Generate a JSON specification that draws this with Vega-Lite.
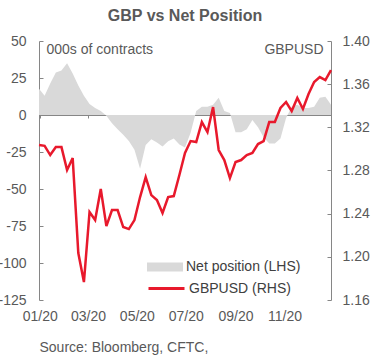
{
  "$schema": "https://vega.github.io/schema/vega-lite/v6.json",
  "width": 292,
  "height": 259,
  "autosize": "none",
  "padding": {"left": 39, "top": 41, "right": 56, "bottom": 63},
  "background": "white",
  "title": {"text": "GBP vs Net Position", "fontSize": 16, "fontWeight": "bold", "color": "#595959", "anchor": "middle", "frame": "group", "offset": 10, "font": "Liberation Sans"},
  "config": {
    "view": {"stroke": null},
    "font": "Liberation Sans",
    "axis": {"labelFont": "Liberation Sans", "labelFontSize": 14, "labelColor": "#595959", "domainColor": "#868686", "tickColor": "#868686", "grid": false, "titleFont": "Liberation Sans", "titleFontSize": 14, "titleColor": "#595959", "titleFontWeight": "normal"},
    "legend": {"labelFont": "Liberation Sans", "labelFontSize": 14, "labelColor": "#404040"}
  },
  "data": {"values": [
    {"date": "2019-12-31", "net": 17.8, "gbpusd": 1.3036},
    {"date": "2020-01-07", "net": 13.0, "gbpusd": 1.3029},
    {"date": "2020-01-14", "net": 21.2, "gbpusd": 1.2943},
    {"date": "2020-01-21", "net": 28.8, "gbpusd": 1.3017},
    {"date": "2020-01-28", "net": 30.1, "gbpusd": 1.3017},
    {"date": "2020-02-04", "net": 34.9, "gbpusd": 1.2804},
    {"date": "2020-02-11", "net": 28.1, "gbpusd": 1.2915},
    {"date": "2020-02-18", "net": 19.9, "gbpusd": 1.2035},
    {"date": "2020-02-25", "net": 13.0, "gbpusd": 1.1766},
    {"date": "2020-03-03", "net": 7.5, "gbpusd": 1.2415},
    {"date": "2020-03-10", "net": 4.8, "gbpusd": 1.2341},
    {"date": "2020-03-17", "net": 2.7, "gbpusd": 1.2628},
    {"date": "2020-03-24", "net": -0.5, "gbpusd": 1.2285},
    {"date": "2020-03-31", "net": -5.5, "gbpusd": 1.2433},
    {"date": "2020-04-07", "net": -9.6, "gbpusd": 1.2433},
    {"date": "2020-04-14", "net": -13.4, "gbpusd": 1.2276},
    {"date": "2020-04-21", "net": -17.5, "gbpusd": 1.2257},
    {"date": "2020-04-28", "net": -23.5, "gbpusd": 1.2341},
    {"date": "2020-05-05", "net": -36.3, "gbpusd": 1.2554},
    {"date": "2020-05-12", "net": -20.2, "gbpusd": 1.2739},
    {"date": "2020-05-19", "net": -16.4, "gbpusd": 1.2572},
    {"date": "2020-05-26", "net": -18.5, "gbpusd": 1.2526},
    {"date": "2020-06-02", "net": -21.2, "gbpusd": 1.2406},
    {"date": "2020-06-09", "net": -17.8, "gbpusd": 1.2554},
    {"date": "2020-06-16", "net": -15.8, "gbpusd": 1.2563},
    {"date": "2020-06-23", "net": -19.9, "gbpusd": 1.2758},
    {"date": "2020-06-30", "net": -21.9, "gbpusd": 1.2962},
    {"date": "2020-07-07", "net": -12.0, "gbpusd": 1.3073},
    {"date": "2020-07-14", "net": 2.7, "gbpusd": 1.3064},
    {"date": "2020-07-21", "net": 5.5, "gbpusd": 1.3249},
    {"date": "2020-07-28", "net": 5.5, "gbpusd": 1.3156},
    {"date": "2020-08-04", "net": 6.9, "gbpusd": 1.3388},
    {"date": "2020-08-11", "net": 11.6, "gbpusd": 1.2990},
    {"date": "2020-08-18", "net": 2.7, "gbpusd": 1.2897},
    {"date": "2020-08-25", "net": 1.4, "gbpusd": 1.2730},
    {"date": "2020-09-01", "net": -11.6, "gbpusd": 1.2878},
    {"date": "2020-09-08", "net": -11.6, "gbpusd": 1.2897},
    {"date": "2020-09-15", "net": -9.6, "gbpusd": 1.2943},
    {"date": "2020-09-22", "net": -3.4, "gbpusd": 1.2962},
    {"date": "2020-09-29", "net": -8.2, "gbpusd": 1.3045},
    {"date": "2020-10-06", "net": -15.1, "gbpusd": 1.3073},
    {"date": "2020-10-13", "net": -19.2, "gbpusd": 1.3249},
    {"date": "2020-10-20", "net": -19.2, "gbpusd": 1.3249},
    {"date": "2020-10-27", "net": -15.8, "gbpusd": 1.3379},
    {"date": "2020-11-03", "net": -2.1, "gbpusd": 1.3435},
    {"date": "2020-11-10", "net": 5.5, "gbpusd": 1.3351},
    {"date": "2020-11-17", "net": 6.9, "gbpusd": 1.3472},
    {"date": "2020-11-24", "net": 4.8, "gbpusd": 1.3370},
    {"date": "2020-12-01", "net": 4.8, "gbpusd": 1.3509},
    {"date": "2020-12-08", "net": 5.5, "gbpusd": 1.3620},
    {"date": "2020-12-15", "net": 11.6, "gbpusd": 1.3666},
    {"date": "2020-12-22", "net": 12.3, "gbpusd": 1.3638},
    {"date": "2020-12-29", "net": 6.9, "gbpusd": 1.3731}
  ]},
  "layer": [
    {
      "mark": {"type": "area", "interpolate": "linear"},
      "encoding": {
        "x": {"field": "date", "type": "temporal",
          "scale": {"domain": ["2019-12-31", "2020-12-29"]},
          "axis": {"orient": "bottom", "domain": false, "ticks": false, "format": "%m/%y", "tickCount": {"interval": "month", "step": 2}, "labelPadding": 9, "labelFlush": false,
            "title": "Source: Bloomberg, CFTC,", "titleAnchor": "start", "titleAlign": "left", "titleBaseline": "alphabetic", "titleX": 0, "titleY": 51.5}},
        "y": {"field": "net", "type": "quantitative", "stack": null,
          "scale": {"domain": [-125, 50], "nice": false, "zero": false},
          "axis": {"orient": "left", "values": [-125, -100, -75, -50, -25, 0, 25, 50], "labelExpr": "'' + datum.value", "tickSize": -4, "labelPadding": 17,
            "title": "000s of contracts", "titleAngle": 0, "titleAlign": "left", "titleBaseline": "alphabetic", "titleX": 7, "titleY": 12.5}},
        "fill": {"datum": "Net position (LHS)", "scale": {"range": ["#d9d9d9"]},
          "legend": {"orient": "none", "legendX": 108, "legendY": 208, "title": null, "padding": 0, "symbolType": "M-1,-0.25H1V0.25H-1Z", "symbolSize": 1296, "symbolStrokeWidth": 0, "labelOffset": 3}}
      }
    },
    {
      "mark": {"type": "line", "strokeWidth": 2.5, "interpolate": "linear"},
      "encoding": {
        "x": {"field": "date", "type": "temporal",
          "axis": {"orient": "bottom", "offset": -185, "labels": false, "domain": true, "ticks": true, "tickSize": 3, "tickCount": {"interval": "month", "step": 2}, "title": null}},
        "y": {"field": "gbpusd", "type": "quantitative",
          "scale": {"domain": [1.16, 1.40], "nice": false, "zero": false},
          "axis": {"orient": "right", "values": [1.16, 1.20, 1.24, 1.28, 1.32, 1.36, 1.40], "format": ".2f", "tickSize": -4, "labelPadding": 15,
            "title": "GBPUSD", "titleAngle": 0, "titleAlign": "right", "titleBaseline": "alphabetic", "titleX": -8, "titleY": 12.5}},
        "stroke": {"datum": "GBPUSD (RHS)", "scale": {"range": ["#e8192c"]},
          "legend": {"orient": "none", "legendX": 108, "legendY": 228, "title": null, "padding": 0, "symbolType": "M-1,0H1", "symbolSize": 1296, "symbolStrokeWidth": 3, "labelOffset": 3}}
      }
    }
  ],
  "resolve": {"scale": {"y": "independent"}, "axis": {"x": "independent"}}
}
